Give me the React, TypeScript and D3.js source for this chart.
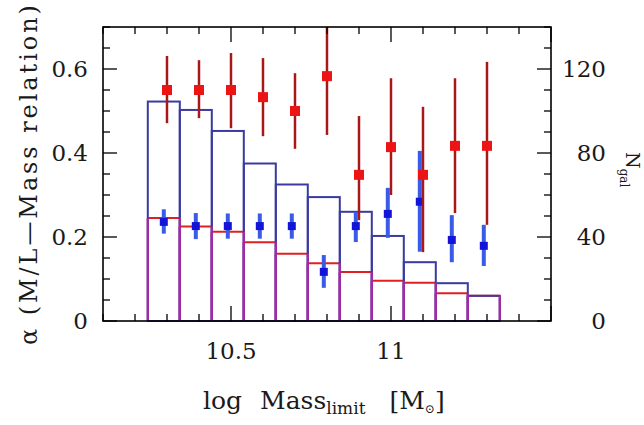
import React from "react";
import * as d3 from "d3";

// ---- data ----
const mass = [10.3, 10.4, 10.5, 10.6, 10.7, 10.8, 10.9, 11.0, 11.1, 11.2, 11.3];
const blueMass = [10.29, 10.39, 10.49, 10.59, 10.69, 10.79, 10.89, 10.99, 11.09, 11.19, 11.29];
const redAlpha = [0.55, 0.55, 0.55, 0.533, 0.5, 0.583, 0.348, 0.414, 0.348, 0.417, 0.417];
const redLo = [0.471, 0.483, 0.459, 0.44, 0.41, 0.443, 0.24, 0.3, 0.164, 0.257, 0.229];
const redHi = [0.631, 0.621, 0.638, 0.626, 0.59, 0.75, 0.488, 0.578, 0.51, 0.578, 0.617];
const blueAlpha = [0.236, 0.226, 0.226, 0.226, 0.226, 0.117, 0.226, 0.255, 0.284, 0.193, 0.179];
const blueLo = [0.208, 0.195, 0.196, 0.196, 0.196, 0.079, 0.188, 0.198, 0.165, 0.14, 0.131];
const blueHi = [0.266, 0.257, 0.256, 0.256, 0.256, 0.157, 0.26, 0.317, 0.405, 0.252, 0.229];
const binLo = [10.24, 10.34, 10.44, 10.54, 10.64, 10.74, 10.84, 10.94, 11.04, 11.14, 11.24];
const binWidth = 0.1;
const nAll = [104.5, 100.5, 90.5, 75, 65, 59, 52, 40.5, 28, 18, 12];
const nSub = [49, 45, 42.5, 37.5, 32, 27.5, 23.3, 19.2, 18.2, 13.2, 12];
const xTickLabels = [10.5, 11];
const yLeftLabels = [0, 0.2, 0.4, 0.6];
const yRightLabels = [0, 40, 80, 120];

const W = 644, H = 425;
const L = 103, R = 551, T = 27, B = 321;
const FONT = "'DejaVu Serif', serif";

export default function App() {
  const x = d3.scaleLinear().domain([10.1, 11.5]).range([L, R]);
  const yL = d3.scaleLinear().domain([0, 0.7]).range([B, T]);
  const yR = d3.scaleLinear().domain([0, 140]).range([B, T]);

  const xMinor = d3.range(10.1, 11.5001, 0.1);
  const yMinor = d3.range(0, 0.7001, 0.05);
  const yRMinor = d3.range(0, 140.001, 10);
  const isMajX = (v: number) => Math.abs(v * 2 - Math.round(v * 2)) < 1e-6;
  const isMajY = (v: number) => Math.abs(v * 5 - Math.round(v * 5)) < 1e-6;
  const isMajYR = (v: number) => Math.abs(v / 40 - Math.round(v / 40)) < 1e-6;

  const navy = "#3a3aa0";
  const red = "#e02020";
  const purple = "#a02aa0";
  const ink = "#1a1a1a";

  return (
    <svg width={W} height={H} style={{ position: "absolute", left: 0, top: 0, background: "#fff" }}>
      <defs>
        <clipPath id="plot">
          <rect x={L} y={T} width={R - L} height={B - T} />
        </clipPath>
      </defs>
      <rect x={0} y={0} width={W} height={H} fill="#fff" />

      {/* histograms */}
      <g>
        {binLo.map((b, i) => (
          <line key={"rt" + i} x1={x(b)} x2={x(b + binWidth)} y1={yR(nSub[i])} y2={yR(nSub[i])} stroke={red} strokeWidth={2} />
        ))}
        {binLo.map((b, i) => (
          <rect key={"bb" + i} x={x(b)} y={yR(nAll[i])} width={x(b + binWidth) - x(b)} height={yR(0) - yR(nAll[i])}
            fill="none" stroke={navy} strokeWidth={2} />
        ))}
        {binLo.map((b, i) => (
          <g key={"rs" + i}>
            <line x1={x(b)} x2={x(b)} y1={yR(0)} y2={yR(nSub[i])} stroke={purple} strokeWidth={2.4} />
            <line x1={x(b + binWidth)} x2={x(b + binWidth)} y1={yR(0)} y2={yR(nSub[i])} stroke={purple} strokeWidth={2.4} />
          </g>
        ))}
      </g>

      {/* points */}
      <g clipPath="url(#plot)">
        {blueMass.map((m, i) => (
          <g key={"b" + i}>
            <line x1={x(m)} x2={x(m)} y1={yL(blueLo[i])} y2={yL(blueHi[i])} stroke="#3a5ae8" strokeWidth={4} />
            <rect x={x(m) - 4} y={yL(blueAlpha[i]) - 4} width={8} height={8} fill="#1414d8" />
          </g>
        ))}
        {mass.map((m, i) => (
          <g key={"r" + i}>
            <line x1={x(m)} x2={x(m)} y1={yL(redLo[i])} y2={yL(redHi[i])} stroke="#a81818" strokeWidth={2.5} />
            <rect x={x(m) - 5} y={yL(redAlpha[i]) - 5} width={10} height={10} fill="#ec1414" />
          </g>
        ))}
      </g>

      {/* frame */}
      <rect x={L} y={T} width={R - L} height={B - T} fill="none" stroke="#000" strokeWidth={1.6} />

      {/* ticks */}
      {xMinor.map((v, i) => {
        const len = isMajX(v) ? 15 : 7;
        return (
          <g key={"xt" + i}>
            <line x1={x(v)} x2={x(v)} y1={B} y2={B - len} stroke="#000" strokeWidth={1.3} />
            <line x1={x(v)} x2={x(v)} y1={T} y2={T + len} stroke="#000" strokeWidth={1.3} />
          </g>
        );
      })}
      {yMinor.map((v, i) => {
        const len = isMajY(v) ? 14 : 7;
        return <line key={"yl" + i} x1={L} x2={L + len} y1={yL(v)} y2={yL(v)} stroke="#000" strokeWidth={1.3} />;
      })}
      {yRMinor.map((v, i) => {
        const len = isMajYR(v) ? 14 : 7;
        return <line key={"yr" + i} x1={R} x2={R - len} y1={yR(v)} y2={yR(v)} stroke="#000" strokeWidth={1.3} />;
      })}

      {/* tick labels */}
      <g fontFamily={FONT} fontSize={23} fill={ink}>
        {xTickLabels.map((v) => (
          <text key={"xl" + v} x={x(v)} y={359} textAnchor="middle">{String(v)}</text>
        ))}
        {yLeftLabels.map((v) => (
          <text key={"yll" + v} x={88} y={yL(v) + 8} textAnchor="end">{String(v)}</text>
        ))}
        {yRightLabels.map((v) => (
          <text key={"yrl" + v} x={606} y={yR(v) + 8} textAnchor="end">{String(v)}</text>
        ))}
      </g>

      {/* axis titles */}
      <text fontFamily={FONT} fontSize={24} fill={ink} transform="translate(37,175) rotate(-90)" textAnchor="middle"
        textLength={340} lengthAdjust="spacing">α (M/L—Mass relation)</text>

      <text fontFamily={FONT} fontSize={25} fill={ink} x={203} y={409}>
        <tspan>log</tspan>
        <tspan dx={18}>Mass</tspan>
        <tspan fontSize={17} dy={5}>limit</tspan>
        <tspan dx={24} dy={-5}>[M</tspan>
        <tspan fontSize={12} dy={4}>⊙</tspan>
        <tspan dy={-4}>]</tspan>
      </text>

      <text fontFamily={FONT} fill={ink} transform="translate(626,152) rotate(90)">
        <tspan fontSize={19}>N</tspan>
        <tspan fontSize={12} dy={6}>gal</tspan>
      </text>
    </svg>
  );
}
